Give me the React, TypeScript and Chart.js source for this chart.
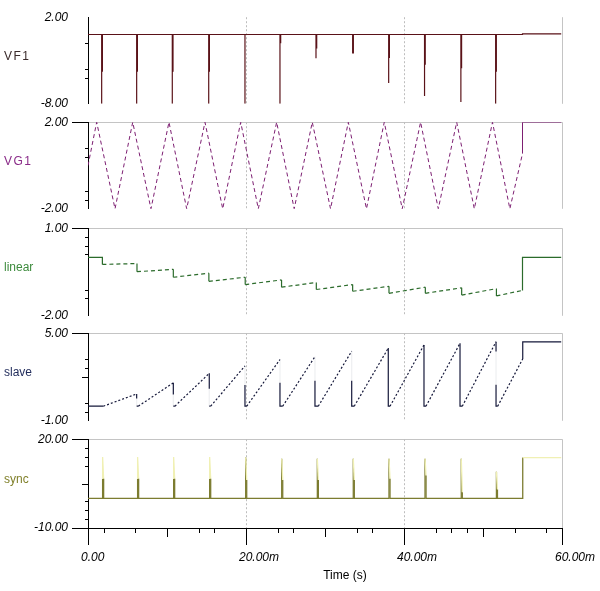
import React, { useEffect, useRef } from 'react';
import { Chart, registerables } from 'chart.js';

Chart.register(...registerables);

// ---------- shared time axis ----------
const xTickValues = [0, 20, 40, 60];
const xTickLabels = ['0.00', '20.00m', '40.00m', '60.00m'];
const xMinorTicks = [2, 6, 14, 16, 24, 26, 34, 36, 44, 46, 48, 54, 58];
const xMediumTicks = [10, 30, 50];
const gridTimes = [20, 40];
const endTime = 59.9;

// ---------- VF1 ----------
const vf1SpikeTimes = [1.73, 6.16, 10.67, 15.28, 19.87, 24.3, 28.86, 33.5, 38.06, 42.6, 47.2, 51.6];
const vf1DeepValues = [-8, -8, -8, -8, -8, -8, -2.75, -2.2, -5.6, -7.1, -7.8, -8];
const vf1ShallowValues = [-4.3, -4.3, -4.3, -4.3, 0, -1.0, -1.6, -2.2, -2.7, -3.5, -3.9, -4.3];
const vf1Base = 0;
const vf1StepTime = 55.0;
const vf1Final = 0.08;

// ---------- VG1 ----------
const vg1Times = [0, 1.1, 3.42, 5.66, 7.97, 10.25, 12.49, 14.81, 17.05, 19.33, 21.56, 23.88, 26.1, 28.39, 30.7,
  32.95, 35.25, 37.5, 39.78, 42.1, 44.34, 46.67, 48.9, 51.2, 53.4, 55.0, 55.0, 59.9];
const vg1Values = [0, 2, -2, 2, -2, 2, -2, 2, -2, 2, -2, 2, -2, 2, -2, 2, -2, 2, -2, 2, -2, 2, -2, 2, -2, 0.55, 2, 2];

// ---------- linear ----------
const linStepTimes = [1.82, 6.2, 10.8, 15.3, 19.9, 24.5, 28.9, 33.5, 38.1, 42.7, 47.3, 51.7, 55.0];
const linSegStart = [-0.24, -0.49, -0.68, -0.82, -0.93, -1.02, -1.1, -1.16, -1.23, -1.23, -1.29, -1.32];
const linSegEnd = [-0.21, -0.41, -0.54, -0.68, -0.77, -0.86, -0.93, -0.99, -1.02, -1.04, -1.07, -1.13];
const linInitial = 0;
const linFinal = 0;

// ---------- slave ----------
const slaveRampStart = [1.94, 6.37, 11.0, 15.53, 20.09, 24.65, 29.15, 33.7, 38.23, 42.78, 47.38, 51.86];
const slaveRampEnd = [6.16, 10.8, 15.35, 19.87, 24.3, 28.73, 33.38, 38.01, 42.53, 47.09, 51.65, 55.03];
const slavePeak = [0.84, 1.6, 2.25, 2.76, 3.2, 3.4, 3.77, 3.98, 4.2, 4.31, 4.42, 3.24];
const slaveDropSolid: number[][][] = [
  [[0.84, 0.53]], [[1.6, 0.8]], [[2.25, 1.2]], [[1.45, 0]], [[1.6, 0]], [[1.75, 0]],
  [[1.75, 0]], [[3.98, 0]], [[4.2, 0]], [[4.31, 0]], [[4.42, 3.75], [1.47, 0]],
];
const slaveFinal = 4.4;

// ---------- sync ----------
const syncTimes = [1.85, 6.28, 10.84, 15.4, 19.96, 24.52, 29.03, 33.58, 38.1, 42.66, 47.25, 51.7];
const syncSolidTop = [6.6, 6.6, 6.6, 6.6, 13.8, 13.4, 13.4, 13.4, 13.4, 13.4, 13.4, 9.0];
const syncTallTop = [14, 14, 14, 14, 13.8, 13.4, 13.4, 13.4, 13.4, 13.4, 13.4, 9.0];
const syncShortTop = [6.6, 6.6, 6.6, 6.6, 6.2, 6.2, 6.2, 6.2, 6.6, 7.7, 2.1, 3.0];
const syncStepTime = 55.03;
const syncFinal = 13.8;

type Pt = { x: number; y: number; s?: string };

function buildVF1(): Pt[] {
  const p: Pt[] = [{ x: 0, y: vf1Base }];
  vf1SpikeTimes.forEach((t, i) => {
    p.push({ x: t, y: vf1Base });
    p.push({ x: t, y: vf1DeepValues[i] });
    p.push({ x: t, y: vf1Base });
    p.push({ x: t + 0.09, y: vf1Base });
    p.push({ x: t + 0.09, y: vf1ShallowValues[i] });
    p.push({ x: t + 0.09, y: vf1Base });
  });
  p.push({ x: vf1StepTime, y: vf1Base });
  p.push({ x: vf1StepTime, y: vf1Final });
  p.push({ x: endTime, y: vf1Final });
  return p;
}

function buildVG1(): Pt[] {
  return vg1Times.map((t, i) => {
    const prev = i > 0 ? { x: vg1Times[i - 1], y: vg1Values[i - 1] } : null;
    const sloped = prev && prev.x !== t && prev.y !== vg1Values[i];
    return { x: t, y: vg1Values[i], s: sloped ? 'd' : 'n' };
  });
}

function buildLinear(): Pt[] {
  const p: Pt[] = [{ x: 0, y: linInitial }, { x: linStepTimes[0], y: linInitial, s: 'n' }];
  linSegStart.forEach((v, i) => {
    p.push({ x: linStepTimes[i], y: v, s: 'n' });
    p.push({ x: linStepTimes[i + 1], y: linSegEnd[i], s: 'd' });
  });
  const last = linStepTimes[linStepTimes.length - 1];
  p.push({ x: last, y: linFinal, s: 'n' });
  p.push({ x: endTime, y: linFinal, s: 'n' });
  return p;
}

function buildSlave(): Pt[] {
  const p: Pt[] = [{ x: 0, y: 0 }];
  slaveRampStart.forEach((ts, i) => {
    const te = slaveRampEnd[i];
    p.push({ x: ts, y: 0, s: 'n' });
    p.push({ x: te, y: slavePeak[i], s: 'd' });
    if (i < slaveDropSolid.length) {
      let cur = slavePeak[i];
      slaveDropSolid[i].forEach(([a, b]) => {
        if (a < cur) p.push({ x: te, y: a, s: 'f' });
        p.push({ x: te, y: b, s: 'n' });
        cur = b;
      });
      if (cur > 0) p.push({ x: te, y: 0, s: 'f' });
    } else {
      p.push({ x: te, y: slaveFinal, s: 'n' });
      p.push({ x: endTime, y: slaveFinal, s: 'n' });
    }
  });
  return p;
}

function buildSync(): Pt[] {
  const p: Pt[] = [{ x: 0, y: 0 }];
  syncTimes.forEach((t, i) => {
    p.push({ x: t, y: 0, s: 'n' });
    p.push({ x: t, y: syncSolidTop[i], s: 'n' });
    if (syncTallTop[i] > syncSolidTop[i]) p.push({ x: t, y: syncTallTop[i], s: 'f' });
    p.push({ x: t + 0.13, y: syncShortTop[i], s: 'f' });
    p.push({ x: t + 0.13, y: 0, s: 'n' });
  });
  p.push({ x: syncStepTime, y: 0, s: 'n' });
  p.push({ x: syncStepTime, y: syncFinal, s: 'n' });
  p.push({ x: endTime, y: syncFinal, s: 'f' });
  return p;
}

type PanelCfg = {
  name: string; color: string; labelColor: string; faint: string; dash: number[]; width: number;
  min: number; max: number; top: number; bottom: number;
  minor: number[]; medium: number[];
  topTick: boolean; bottomTick: boolean; topLine: boolean; spacing: number;
  data: Pt[]; last: boolean;
};

const panels: PanelCfg[] = [
  { name: 'VF1', color: '#5a1218', labelColor: '#3a2a2a', faint: '#f4dada', dash: [], width: 1.2,
    min: -8, max: 2, top: 16, bottom: 105, minor: [-1, -4, -5], medium: [],
    topTick: false, bottomTick: false, topLine: false, spacing: 1.5, data: buildVF1(), last: false },
  { name: 'VG1', color: '#7d1f72', labelColor: '#8a2a88', faint: '#f0d8ee', dash: [4, 3], width: 1,
    min: -2, max: 2, top: 121, bottom: 210, minor: [0.8, 0.4, -1.2, -1.6], medium: [],
    topTick: true, bottomTick: false, topLine: true, spacing: 1.5, data: buildVG1(), last: false },
  { name: 'linear', color: '#2b6b2b', labelColor: '#3d8b3d', faint: '#d8eed8', dash: [4, 3], width: 1.2,
    min: -2, max: 1, top: 227, bottom: 317, minor: [0.7, 0.4, 0.1, -1.1, -1.4], medium: [],
    topTick: true, bottomTick: false, topLine: true, spacing: 0, data: buildLinear(), last: false },
  { name: 'slave', color: '#15183a', labelColor: '#1f2a5a', faint: 'rgba(20,24,60,0.07)', dash: [2, 2], width: 1.2,
    min: -1, max: 5, top: 332, bottom: 422, minor: [3.2, 2.6, 0.2, -0.4], medium: [2],
    topTick: true, bottomTick: false, topLine: true, spacing: 0, data: buildSlave(), last: false },
  { name: 'sync', color: '#7c7c30', labelColor: '#80802a', faint: '#f0f0b4', dash: [], width: 1.3,
    min: -10, max: 20, top: 438, bottom: 528, minor: [17, 14, 11, -1, -4, -7], medium: [5],
    topTick: true, bottomTick: true, topLine: true, spacing: 0, data: buildSync(), last: true },
];

const tickFont = { family: '"Liberation Sans", Arial, sans-serif', size: 12, style: 'italic' as const };

function Panel({ cfg }: { cfg: PanelCfg }) {
  const ref = useRef<HTMLCanvasElement>(null);
  const height = cfg.bottom - cfg.top + 10 + (cfg.last ? 63 : 10);

  useEffect(() => {
    if (!ref.current) return;
    const data = cfg.data;
    const deco = {
      id: 'deco',
      beforeDatasetsDraw(chart: any) {
        const { ctx, chartArea: a } = chart;
        const xs = chart.scales.x;
        ctx.save();
        ctx.lineWidth = 1;
        ctx.strokeStyle = '#bdbdbd';
        ctx.setLineDash([2, 2]);
        gridTimes.forEach((t) => {
          const px = Math.round(xs.getPixelForValue(t)) + 0.5;
          ctx.beginPath(); ctx.moveTo(px, a.top); ctx.lineTo(px, a.bottom); ctx.stroke();
        });
        ctx.setLineDash([]);
        ctx.strokeStyle = '#c4c4c4';
        const rx = Math.round(a.right) + 0.5;
        ctx.beginPath(); ctx.moveTo(rx, a.top); ctx.lineTo(rx, a.bottom); ctx.stroke();
        ctx.restore();
      },
      afterDraw(chart: any) {
        const { ctx, chartArea: a } = chart;
        const ys = chart.scales.y;
        const xs = chart.scales.x;
        ctx.save();
        ctx.strokeStyle = '#000';
        ctx.lineWidth = 1;
        const hline = (x1: number, x2: number, y: number) => { ctx.beginPath(); ctx.moveTo(x1, y); ctx.lineTo(x2, y); ctx.stroke(); };
        const vline = (x: number, y1: number, y2: number) => { ctx.beginPath(); ctx.moveTo(x, y1); ctx.lineTo(x, y2); ctx.stroke(); };
        cfg.minor.forEach((v) => hline(a.left - 3, a.left, Math.round(ys.getPixelForValue(v)) + 0.5));
        cfg.medium.forEach((v) => hline(a.left - 6, a.left, Math.round(ys.getPixelForValue(v)) + 0.5));
        if (cfg.last) {
          xMinorTicks.forEach((t) => vline(Math.round(xs.getPixelForValue(t)) + 0.5, a.bottom, a.bottom + 5));
          xMediumTicks.forEach((t) => vline(Math.round(xs.getPixelForValue(t)) + 0.5, a.bottom, a.bottom + 9));
        }
        ctx.font = '12px "Liberation Sans", Arial, sans-serif';
        ctx.fillStyle = cfg.labelColor;
        ctx.textAlign = 'left';
        ctx.textBaseline = 'middle';
        (ctx as any).letterSpacing = cfg.spacing + 'px';
        ctx.fillText(cfg.name, 4, (a.top + a.bottom) / 2 - 4);
        (ctx as any).letterSpacing = '0px';
        if (cfg.last) {
          ctx.fillStyle = '#000';
          ctx.textAlign = 'center';
          ctx.fillText('Time (s)', 345, a.bottom + 48);
        }
        ctx.restore();
      },
    };

    const chart = new Chart(ref.current, {
      type: 'line',
      data: {
        datasets: [{
          data: data as any,
          borderColor: cfg.color,
          borderWidth: cfg.width,
          pointRadius: 0,
          fill: false,
          tension: 0,
          segment: {
            borderColor: (c: any) => (data[c.p1DataIndex] && data[c.p1DataIndex].s === 'f' ? cfg.faint : cfg.color),
            borderDash: (c: any) => (data[c.p1DataIndex] && data[c.p1DataIndex].s === 'd' ? cfg.dash : []),
          },
        }],
      },
      options: {
        responsive: false,
        animation: false,
        events: [],
        layout: { padding: { top: 10, bottom: cfg.last ? 0 : 10, left: 0, right: 38 } },
        plugins: { legend: { display: false }, tooltip: { enabled: false } },
        scales: {
          x: {
            type: 'linear', min: 0, max: 60, display: cfg.last, position: 'bottom',
            afterBuildTicks: (s: any) => { s.ticks = xTickValues.map((v) => ({ value: v })); },
            afterFit: (s: any) => {
              if (cfg.last) { s.height = 63; } else { s.height = 0; }
              s.paddingLeft = 0; s.paddingRight = 0;
            },
            ticks: {
              autoSkip: false, maxRotation: 0, minRotation: 0, align: 'start', labelOffset: -7, padding: 5,
              color: '#000', font: tickFont,
              callback: (_v: any, i: number) => xTickLabels[i],
            },
            grid: { drawOnChartArea: false, drawTicks: true, tickLength: 17, tickColor: '#000', tickWidth: 1 },
            border: { display: true, color: '#000', width: 1 },
          },
          y: {
            type: 'linear', min: cfg.min, max: cfg.max, position: 'left',
            afterBuildTicks: (s: any) => { s.ticks = [{ value: cfg.min }, { value: cfg.max }]; },
            afterFit: (s: any) => { s.width = 88; },
            ticks: {
              autoSkip: false, padding: 4, color: '#000', font: tickFont,
              callback: (v: any) => Number(v).toFixed(2),
            },
            grid: {
              drawOnChartArea: true, drawTicks: true, tickLength: 16, lineWidth: 1, tickWidth: 1,
              color: (c: any) => (c.tick && c.tick.value === cfg.max && cfg.topLine ? '#c4c4c4' : 'rgba(0,0,0,0)'),
              tickColor: (c: any) => {
                if (!c.tick) return 'rgba(0,0,0,0)';
                if (c.tick.value === cfg.max && cfg.topTick) return '#000';
                if (c.tick.value === cfg.min && cfg.bottomTick) return '#000';
                return 'rgba(0,0,0,0)';
              },
            },
            border: { display: true, color: '#000', width: 1 },
          },
        },
      } as any,
      plugins: [deco],
    });
    return () => chart.destroy();
  }, []);

  return (
    <canvas
      ref={ref}
      width={600}
      height={height}
      style={{ position: 'absolute', left: 0, top: cfg.top - 10, width: 600, height }}
    />
  );
}

export default function App() {
  return (
    <div style={{ position: 'absolute', left: 0, top: 0, width: 600, height: 591, background: '#ffffff', overflow: 'hidden' }}>
      {panels.map((p) => (
        <Panel key={p.name} cfg={p} />
      ))}
    </div>
  );
}
